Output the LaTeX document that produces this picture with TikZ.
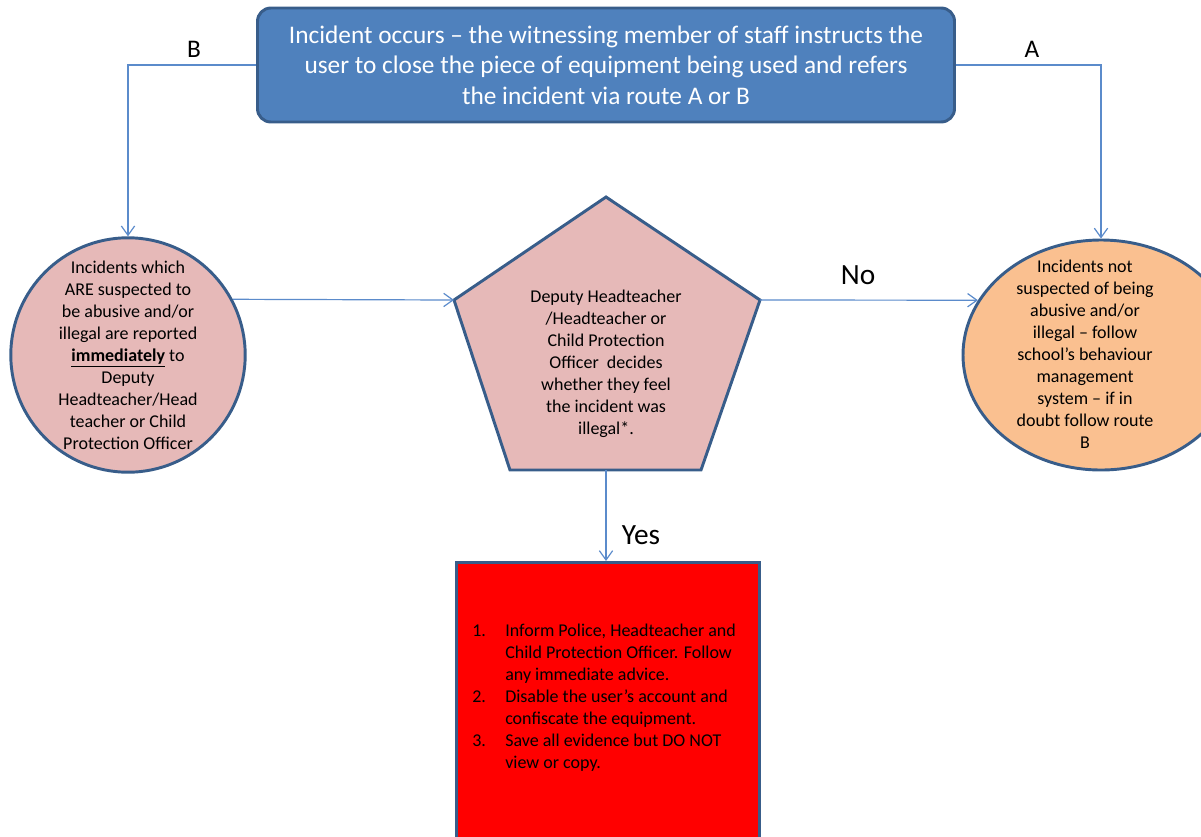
\documentclass[tikz,border=0pt]{standalone}
\usepackage{fontspec}
\setmainfont{Carlito}
\usetikzlibrary{shapes.geometric,arrows.meta}
\definecolor{boxblue}{HTML}{4F81BD}
\definecolor{edgeblue}{HTML}{385D8A}
\definecolor{lineblue}{HTML}{5B8BCB}
\definecolor{rosefill}{HTML}{E6B9B8}
\definecolor{peachfill}{HTML}{FAC090}
\newcommand{\itm}[1]{\makebox[24.75pt][l]{#1.}}
\newcommand{\ind}{\hspace*{24.75pt}}

\begin{document}
\begin{tikzpicture}[x=0.75pt, y=-0.75pt,
    conn/.style={draw=lineblue, line width=0.9pt, -{Straight Barb[length=7pt,width=10pt]}},
    shp/.style={draw=edgeblue, line width=2.2pt},
    body/.style={font=\fontsize{13.5pt}{16.5pt}\selectfont, align=center, inner sep=0pt},
    lab/.style={font=\fontsize{19pt}{22pt}\selectfont},
    biglab/.style={font=\fontsize{22pt}{26pt}\selectfont}]
  \useasboundingbox (0,0) rectangle (1201,836);
  \clip (0,0) rectangle (1201,836);

  \node[shp, fill=boxblue, rounded corners=10pt, minimum width=522.75pt, minimum height=85.5pt,
        text=white, align=center, font=\fontsize{19pt}{23pt}\selectfont] (top) at (606,65)
    {Incident occurs – the witnessing member of staff instructs the\\
     user to close the piece of equipment being used and refers\\
     the incident via route A or B};

  \node[shp, circle, fill=rosefill, minimum size=172.5pt, body] (lcirc) at (128,355)
    {Incidents which\\ ARE suspected to\\ be abusive and/or\\ illegal are reported\\
     \underline{\textbf{immediately}} to\\ Deputy\\ Headteacher/Head\\ teacher or Child\\ Protection Officer};

  \node[shp, ellipse, fill=peachfill, minimum width=207pt, minimum height=172.5pt] (rcirc) at (1101,355) {};
  \node[body] (rtext) at (1085,354)
    {Incidents not\\ suspected of being\\ abusive and/or\\ illegal – follow\\ school’s behaviour\\
     management\\ system – if in\\ doubt follow route\\ B};

  \coordinate (pT) at (606,197);
  \coordinate (pR) at (760,300);
  \coordinate (pBR) at (701,470);
  \coordinate (pBL) at (510,470);
  \coordinate (pL) at (454,300);
  \coordinate (pB) at (606,470);
  \draw[shp, fill=rosefill] (pT) -- (pR) -- (pBR) -- (pBL) -- (pL) -- cycle;
  \node[body] (dec) at (606,364)
    {Deputy Headteacher\\ /Headteacher or\\ Child Protection\\ Officer~ decides\\
     whether they feel\\ the incident was\\ illegal*.};

  \node[shp, fill=red, minimum width=227.25pt, minimum height=208.5pt, anchor=north] (act) at (608,561) {};
  \node[body, align=left, anchor=north west] (actlist) at (472,624)
    {\itm{1}Inform Police, Headteacher and\\ \ind Child Protection Officer. Follow\\
     \ind any immediate advice.\\ \itm{2}Disable the user’s account and\\
     \ind confiscate the equipment.\\ \itm{3}Save all evidence but DO NOT\\ \ind view or copy.};

  \draw[conn] (top.west) -| (lcirc.north);
  \draw[conn] (top.east) -| (rcirc.north);
  \draw[conn] (lcirc.28) -- (pL);
  \draw[conn] (pR) -- (rcirc.156);
  \draw[conn] (pB) -- (pB |- act.north);

  \node[lab] (labB) at (194,49) {B};
  \node[lab] (labA) at (1032,49) {A};
  \node[biglab] (labNo) at (858,275) {No};
  \node[biglab] (labYes) at (641,535) {Yes};
\end{tikzpicture}
\end{document}
